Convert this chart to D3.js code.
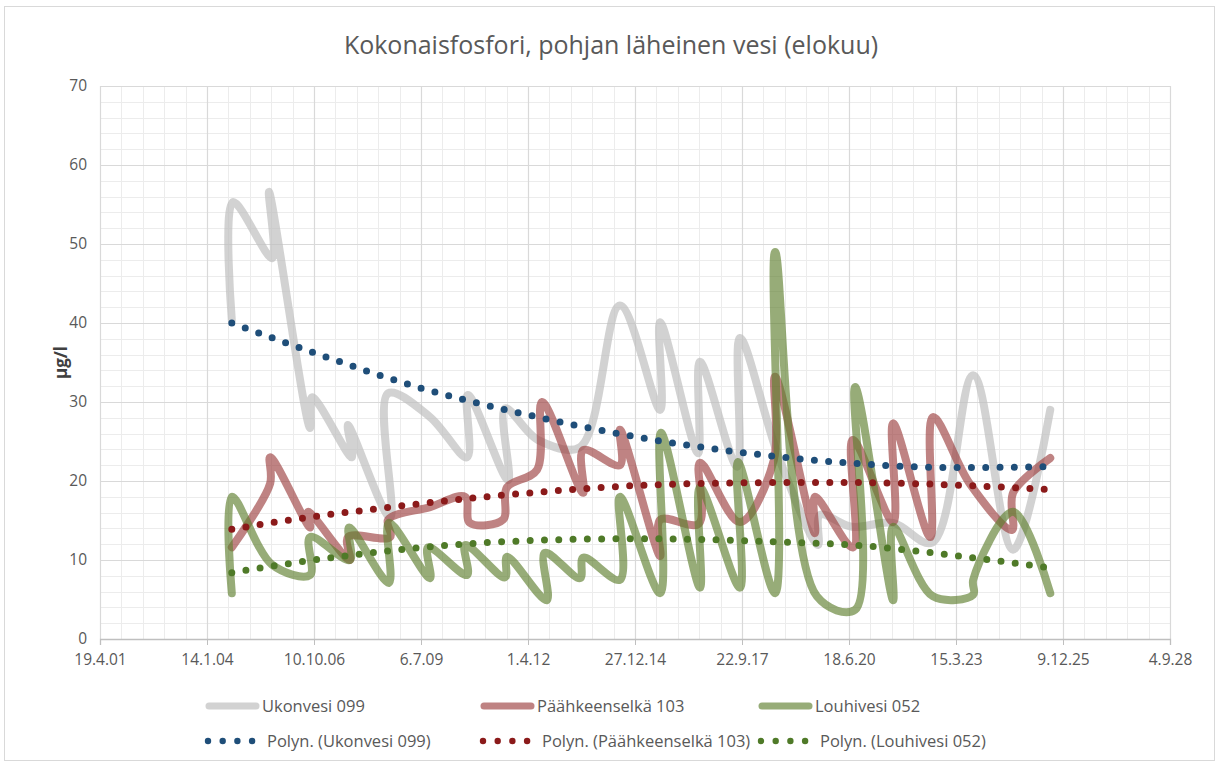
<!DOCTYPE html>
<html>
<head>
<meta charset="utf-8">
<script src="https://cdn.jsdelivr.net/npm/d3@7"></script>
<style>
  body { margin: 0; background: #fff; }
  text { font-family: "Open Sans", "DejaVu Sans", sans-serif; }
</style>
</head>
<body>
<svg id="chart"></svg>
<script>
// sample dates as decimal years, values in µg/l
var ukonYears = [2004.67, 2004.70, 2005.70, 2005.62, 2006.67, 2006.72, 2007.74, 2007.64, 2008.72, 2008.67,
  2009.74, 2010.69, 2010.71, 2011.74, 2011.66, 2012.50, 2013.58, 2014.60, 2015.63, 2015.63,
  2016.60, 2016.65, 2017.60, 2017.67, 2018.67, 2019.67, 2019.72, 2020.54, 2021.59, 2022.59,
  2023.64, 2024.66, 2025.61];
var ukonValues = [40.4, 55.3, 48.2, 56.6, 26.7, 30.6, 23.0, 27.1, 15.4, 31.1,
  28.1, 23.0, 30.9, 20.1, 29.2, 25.2, 24.3, 42.2, 29.0, 40.1,
  23.5, 35.1, 21.8, 38.1, 22.9, 11.9, 15.7, 14.2, 14.7, 12.2,
  33.4, 11.3, 29.0];

var paahYears = [2004.67, 2005.65, 2005.65, 2006.67, 2006.62, 2007.69, 2007.64, 2008.72, 2008.67, 2009.74,
  2010.64, 2010.76, 2011.61, 2011.71, 2012.48, 2012.61, 2013.66, 2013.66, 2014.60, 2014.60,
  2015.63, 2015.63, 2016.62, 2016.65, 2017.67, 2018.54, 2018.57, 2019.59, 2019.59, 2020.56,
  2020.56, 2021.59, 2021.59, 2022.54, 2022.61, 2023.56, 2024.63, 2024.66, 2025.61];
var paahValues = [11.6, 19.7, 23.0, 14.1, 16.1, 10.0, 12.9, 12.9, 15.1, 16.7,
  18.0, 14.7, 15.1, 19.2, 21.4, 30.0, 18.5, 23.9, 22.0, 26.5,
  10.5, 15.1, 14.6, 22.3, 14.8, 22.7, 33.2, 13.4, 18.0, 11.6,
  25.2, 14.8, 27.3, 12.9, 28.1, 19.6, 13.8, 18.5, 22.9];

var louhYears = [2004.67, 2004.67, 2005.70, 2006.67, 2006.67, 2007.69, 2007.67, 2008.69, 2008.69, 2009.74,
  2009.69, 2010.69, 2010.64, 2011.66, 2011.71, 2012.73, 2012.68, 2013.58, 2013.66, 2014.60,
  2014.60, 2015.63, 2015.65, 2016.65, 2016.65, 2017.67, 2017.62, 2018.57, 2018.57, 2019.64,
  2020.62, 2020.62, 2021.59, 2021.59, 2022.61, 2023.64, 2023.64, 2024.66, 2025.61];
var louhValues = [5.8, 18.0, 9.4, 8.1, 12.9, 10.0, 14.1, 7.1, 14.7, 7.7,
  11.6, 8.1, 11.9, 7.8, 10.4, 4.9, 10.9, 7.7, 10.3, 7.5,
  18.0, 5.8, 26.1, 6.5, 19.2, 6.5, 22.4, 5.8, 49.0, 5.4,
  3.7, 31.9, 4.9, 14.2, 5.4, 5.6, 7.5, 16.1, 5.8];

// polynomial trend lines
var ukonTrendYears = [2004.67, 2006.85, 2009.41, 2012.04, 2015.11, 2018.62, 2020.67, 2023.12, 2025.61];
var ukonTrendValues = [40.0, 36.1, 31.9, 28.6, 25.5, 23.1, 22.2, 21.7, 21.8];
var paahTrendYears = [2004.67, 2006.62, 2008.59, 2009.79, 2012.56, 2015.37, 2018.62, 2020.67, 2023.12, 2025.61];
var paahTrendValues = [13.9, 15.4, 16.6, 17.3, 18.6, 19.5, 19.8, 19.8, 19.5, 18.9];
var louhTrendYears = [2004.67, 2006.62, 2008.59, 2009.79, 2012.56, 2015.04, 2018.62, 2020.56, 2023.12, 2025.61];
var louhTrendValues = [8.4, 9.9, 11.1, 11.7, 12.5, 12.7, 12.3, 11.9, 10.6, 9.0];

var yTicks = [0, 10, 20, 30, 40, 50, 60, 70];
var seriesNames = ["Ukonvesi 099", "Päähkeenselkä 103", "Louhivesi 052"];
var trendNames = ["Polyn. (Ukonvesi 099)", "Polyn. (Päähkeenselkä 103)", "Polyn. (Louhivesi 052)"];

var W = 1219, H = 765;
var margin = {top: 86, right: 49, bottom: 126, left: 100};
var width = W - margin.left - margin.right,
    height = H - margin.top - margin.bottom;

var svg = d3.select("#chart").attr("width", W).attr("height", H);

svg.append("rect")
  .attr("x", 4.5).attr("y", 6.5)
  .attr("width", 1210).attr("height", 754)
  .attr("fill", "#fff").attr("stroke", "#d9d9d9");

function toDate(y) {
  var yr = Math.floor(y);
  return new Date(Date.UTC(yr, 0, 1) + (y - yr) * 365.25 * 864e5);
}

var DAY = 864e5;
var start = Date.UTC(2001, 3, 19);
var x = d3.scaleUtc()
  .domain([new Date(start), new Date(start + 10000 * DAY)])
  .range([0, width]);
var y = d3.scaleLinear().domain([0, 70]).range([height, 0]);

var majorX = d3.range(0, 10001, 1000).map(function(d) { return new Date(start + d * DAY); });
var minorX = d3.range(0, 10001, 200).map(function(d) { return new Date(start + d * DAY); });
var minorY = d3.range(0, 71, 2);

var g = svg.append("g").attr("transform", "translate(" + margin.left + "," + margin.top + ")");

// minor grid
g.append("g").selectAll("line").data(minorX).enter().append("line")
  .attr("x1", function(d) { return Math.round(x(d)) + 0.5; })
  .attr("x2", function(d) { return Math.round(x(d)) + 0.5; })
  .attr("y1", 0).attr("y2", height)
  .attr("stroke", "#ececec").attr("stroke-width", 1);
g.append("g").selectAll("line").data(minorY).enter().append("line")
  .attr("y1", function(d) { return Math.round(y(d)) + 0.5; })
  .attr("y2", function(d) { return Math.round(y(d)) + 0.5; })
  .attr("x1", 0).attr("x2", width)
  .attr("stroke", "#ececec").attr("stroke-width", 1);

// major grid
g.append("g").selectAll("line").data(majorX).enter().append("line")
  .attr("x1", function(d) { return Math.round(x(d)) + 0.5; })
  .attr("x2", function(d) { return Math.round(x(d)) + 0.5; })
  .attr("y1", 0).attr("y2", height)
  .attr("stroke", "#d9d9d9").attr("stroke-width", 1.2);
g.append("g").selectAll("line").data(yTicks).enter().append("line")
  .attr("y1", function(d) { return Math.round(y(d)) + 0.5; })
  .attr("y2", function(d) { return Math.round(y(d)) + 0.5; })
  .attr("x1", 0).attr("x2", width)
  .attr("stroke", "#d9d9d9").attr("stroke-width", 1.2);

// x axis
var fmt = function(d) {
  return d.getUTCDate() + "." + (d.getUTCMonth() + 1) + "." + String(d.getUTCFullYear()).slice(2);
};
var xAxis = g.append("g")
  .attr("transform", "translate(0," + height + ")")
  .call(d3.axisBottom(x).tickValues(majorX).tickFormat(fmt).tickSize(6).tickPadding(9));
xAxis.select(".domain").attr("stroke", "#bfbfbf").attr("stroke-width", 1.3);
xAxis.selectAll(".tick line").attr("stroke", "#bfbfbf");
xAxis.selectAll("text").attr("fill", "#595959").style("font-size", "15.5px").style("font-family", "'Open Sans'");

var yAxis = g.append("g")
  .call(d3.axisLeft(y).tickValues(yTicks).tickSize(0).tickPadding(13));
yAxis.select(".domain").remove();
yAxis.selectAll("text").attr("fill", "#595959").style("font-size", "15.5px").style("font-family", "'Open Sans'");

// data lines
var lineColors = [
  {stroke: "#bfbfbf", opacity: 0.7},
  {stroke: "#9c4040", opacity: 0.65},
  {stroke: "#5f8030", opacity: 0.65}
];
var trendColors = ["#1f4e79", "#8b1a1a", "#4f7a28"];

function pairs(xs, vs) { return xs.map(function(d, i) { return [d, vs[i]]; }); }

var series = [pairs(ukonYears, ukonValues), pairs(paahYears, paahValues), pairs(louhYears, louhValues)];
var trends = [pairs(ukonTrendYears, ukonTrendValues), pairs(paahTrendYears, paahTrendValues), pairs(louhTrendYears, louhTrendValues)];

var smooth = d3.line()
  .x(function(d) { return x(toDate(d[0])); })
  .y(function(d) { return y(d[1]); })
  .curve(d3.curveCatmullRom.alpha(0.5));

series.forEach(function(s, i) {
  g.append("path")
    .datum(s)
    .attr("d", smooth)
    .attr("fill", "none")
    .attr("stroke", lineColors[i].stroke)
    .attr("stroke-opacity", lineColors[i].opacity)
    .attr("stroke-width", 8)
    .attr("stroke-linecap", "round")
    .attr("stroke-linejoin", "round");
});

var trendLine = d3.line()
  .x(function(d) { return x(toDate(d[0])); })
  .y(function(d) { return y(d[1]); })
  .curve(d3.curveMonotoneX);

trends.forEach(function(s, i) {
  g.append("path")
    .datum(s)
    .attr("d", trendLine)
    .attr("fill", "none")
    .attr("stroke", trendColors[i])
    .attr("stroke-width", 7)
    .attr("stroke-linecap", "round")
    .attr("stroke-dasharray", "0 14.3");
});

// title
svg.append("text")
  .attr("x", 611).attr("y", 54)
  .attr("text-anchor", "middle")
  .attr("fill", "#595959")
  .style("font-size", "25px")
  .text("Kokonaisfosfori, pohjan läheinen vesi (elokuu)");

// y axis title
svg.append("text")
  .attr("transform", "translate(67," + (margin.top + height / 2) + ") rotate(-90)")
  .attr("text-anchor", "middle")
  .attr("fill", "#404040")
  .style("font-size", "17px")
  .style("font-weight", "bold")
  .text("µg/l");

// legend
var legendX = [205, 480, 758];
var legend = svg.append("g");
seriesNames.forEach(function(name, i) {
  var lg = legend.append("g").attr("transform", "translate(" + legendX[i] + ",706)");
  lg.append("line")
    .attr("x1", 4).attr("x2", 51).attr("y1", 0).attr("y2", 0)
    .attr("stroke", lineColors[i].stroke)
    .attr("stroke-opacity", lineColors[i].opacity)
    .attr("stroke-width", 7)
    .attr("stroke-linecap", "round");
  lg.append("text")
    .attr("x", 57).attr("dy", "0.35em")
    .attr("fill", "#595959")
    .style("font-size", "16.5px")
    .text(name);
});
trendNames.forEach(function(name, i) {
  var lg = legend.append("g").attr("transform", "translate(" + legendX[i] + ",741)");
  lg.selectAll("circle").data(d3.range(4)).enter().append("circle")
    .attr("cx", function(d) { return 3 + d * 14.7; })
    .attr("cy", 0).attr("r", 3.2)
    .attr("fill", trendColors[i]);
  lg.append("text")
    .attr("x", 62).attr("dy", "0.35em")
    .attr("fill", "#595959")
    .style("font-size", "16.5px")
    .text(name);
});
</script>
</body>
</html>
